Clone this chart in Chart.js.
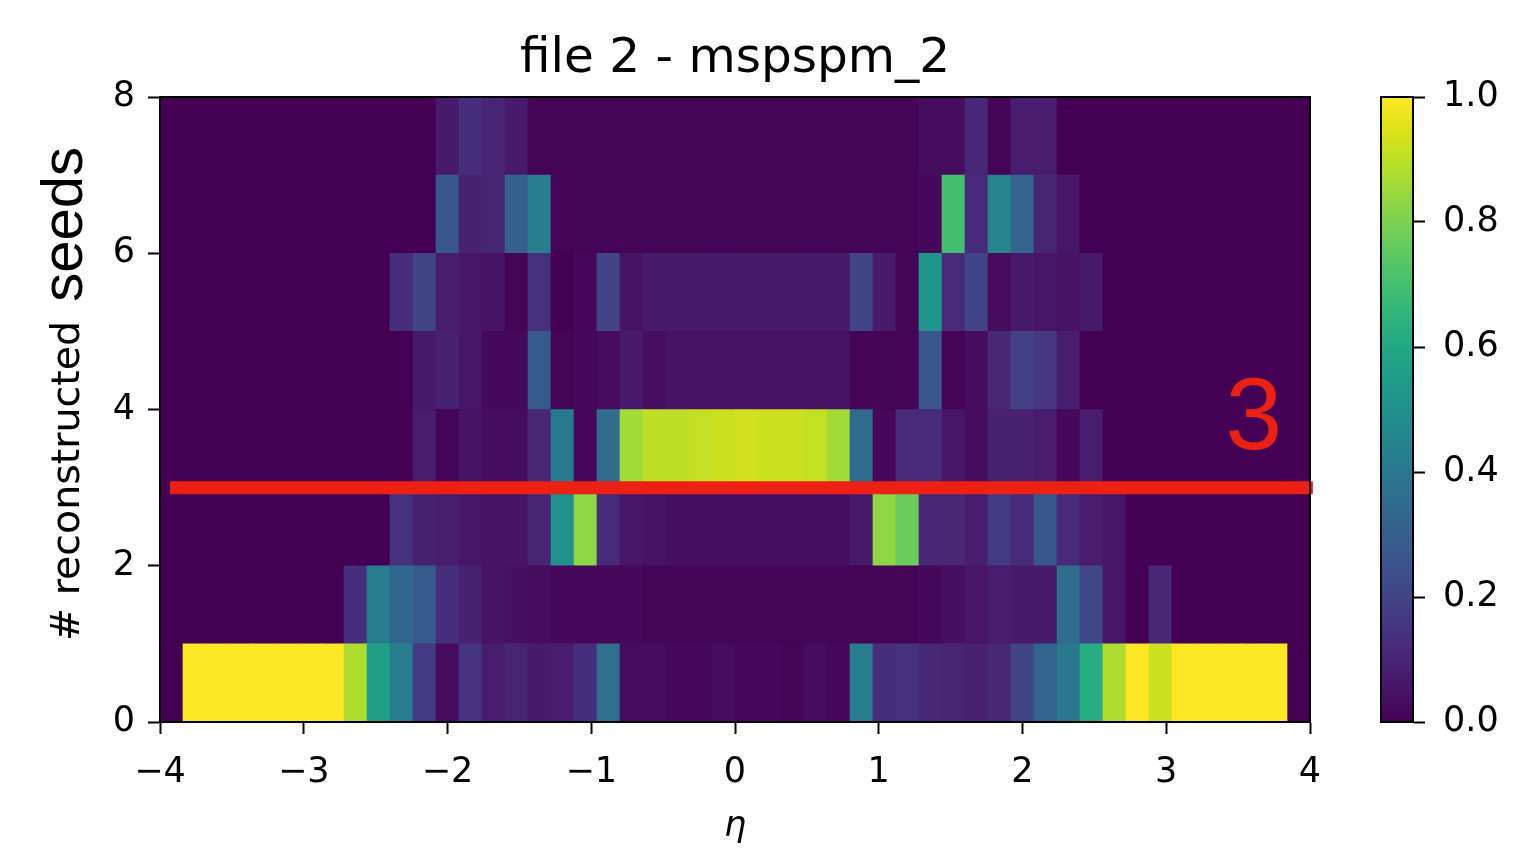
<!DOCTYPE html>
<html>
<head>
<meta charset="utf-8">
<title>file 2 - mspspm_2</title>
<script src="https://cdn.jsdelivr.net/npm/chart.js@4.4.1/dist/chart.umd.min.js"></script>
<style>
  body { margin: 0; background: #fff; }
  #wrap { position: relative; width: 1538px; height: 851px; }
  #heatmap { position: absolute; left: 0; top: 0; }
  #colorbar { position: absolute; left: 1340px; top: 0; }
</style>
</head>
<body>
<div id="wrap">
  <canvas id="heatmap" width="1340" height="851"></canvas>
  <canvas id="colorbar" width="198" height="851"></canvas>
</div>
<script>
// eta binning: 48 bins of 0.16 between -3.84 and 3.84
const etaLow = -3.84
const etaBinWidth = 0.16

// fraction of events per eta bin, one array per number of reconstructed seeds
const seeds0 = [1, 1, 1, 1, 1, 1, 1, 0.88, 0.57, 0.42, 0.17, 0.03, 0.15, 0.08, 0.10, 0.07, 0.08, 0.13, 0.36, 0.03, 0.03, 0.02, 0.02, 0.03,
                0.02, 0.02, 0.01, 0.03, 0.02, 0.42, 0.13, 0.14, 0.11, 0.10, 0.09, 0.11, 0.20, 0.32, 0.40, 0.62, 0.88, 1, 0.92, 1, 1, 1, 1, 1]
const seeds1 = [0, 0, 0, 0, 0, 0, 0, 0.13, 0.42, 0.33, 0.28, 0.13, 0.09, 0.05, 0.04, 0.03, 0.02, 0.02, 0.02, 0.02, 0.01, 0.01, 0.01, 0.01,
                0.01, 0.01, 0.01, 0.01, 0.01, 0.01, 0.01, 0.01, 0.02, 0.04, 0.06, 0.08, 0.07, 0.07, 0.35, 0.21, 0.06, 0, 0.11, 0, 0, 0, 0, 0]
const seeds2 = [0, 0, 0, 0, 0, 0, 0, 0, 0, 0.14, 0.09, 0.08, 0.06, 0.05, 0.05, 0.10, 0.50, 0.83, 0.12, 0.06, 0.05, 0.04, 0.04, 0.04,
                0.04, 0.04, 0.04, 0.04, 0.04, 0.07, 0.83, 0.77, 0.11, 0.11, 0.08, 0.17, 0.12, 0.27, 0.12, 0.08, 0.06, 0, 0, 0, 0, 0, 0, 0]
const seeds3 = [0, 0, 0, 0, 0, 0, 0, 0, 0, 0, 0.08, 0.01, 0.05, 0.03, 0.03, 0.11, 0.41, 0.02, 0.35, 0.86, 0.90, 0.90, 0.91, 0.92,
                0.93, 0.92, 0.92, 0.91, 0.86, 0.35, 0.02, 0.12, 0.12, 0.06, 0.03, 0.09, 0.09, 0.08, 0.02, 0.08, 0, 0, 0, 0, 0, 0, 0, 0]
const seeds4 = [0, 0, 0, 0, 0, 0, 0, 0, 0, 0, 0.07, 0.09, 0.06, 0.02, 0.02, 0.28, 0.01, 0.02, 0.03, 0.07, 0.04, 0.05, 0.05, 0.05,
                0.05, 0.05, 0.05, 0.05, 0.05, 0.01, 0.01, 0.01, 0.27, 0.01, 0.03, 0.11, 0.19, 0.16, 0.08, 0, 0, 0, 0, 0, 0, 0, 0, 0]
const seeds5 = [0, 0, 0, 0, 0, 0, 0, 0, 0, 0.13, 0.20, 0.08, 0.06, 0.05, 0.01, 0.14, 0, 0.02, 0.20, 0.05, 0.07, 0.07, 0.07, 0.07,
                0.07, 0.07, 0.07, 0.07, 0.07, 0.20, 0.07, 0.01, 0.52, 0.12, 0.20, 0.03, 0.07, 0.06, 0.05, 0.07, 0, 0, 0, 0, 0, 0, 0, 0]
const seeds6 = [0, 0, 0, 0, 0, 0, 0, 0, 0, 0, 0, 0.27, 0.09, 0.10, 0.30, 0.42, 0.01, 0.01, 0.01, 0.01, 0.01, 0.01, 0.01, 0.01,
                0.01, 0.01, 0.01, 0.01, 0.01, 0.01, 0.01, 0.01, 0.02, 0.70, 0.12, 0.45, 0.32, 0.10, 0.06, 0, 0, 0, 0, 0, 0, 0, 0, 0]
const seeds7 = [0, 0, 0, 0, 0, 0, 0, 0, 0, 0, 0, 0.07, 0.13, 0.10, 0.07, 0.01, 0.01, 0.01, 0.01, 0.01, 0.01, 0.01, 0.01, 0.01,
                0.01, 0.01, 0.01, 0.01, 0.01, 0.01, 0.01, 0.01, 0.03, 0.03, 0.11, 0.01, 0.08, 0.08, 0, 0, 0, 0, 0, 0, 0, 0, 0, 0]
const seedRows = [seeds0, seeds1, seeds2, seeds3, seeds4, seeds5, seeds6, seeds7]

const xTicks = [-4, -3, -2, -1, 0, 1, 2, 3, 4]
const yTicks = [0, 2, 4, 6, 8]
const cbTicks = [0, 0.2, 0.4, 0.6, 0.8, 1.0]

// horizontal cut
const cutLevel = 3
const cutFrom = -3.93
const cutTo = 4.02

const viridisStops = ["#440154", "#471365", "#482475", "#463480", "#414487", "#3b528b", "#355f8d", "#2f6c8e", "#2a788e", "#25848e", "#21918c",
                      "#1e9c89", "#22a884", "#2fb47c", "#44bf70", "#5ec962", "#7ad151", "#9bd93c", "#bddf26", "#dfe318", "#fde725"]

const hexRgb = (h) => [parseInt(h.slice(1, 3), 16), parseInt(h.slice(3, 5), 16), parseInt(h.slice(5, 7), 16)]

const viridis = (v) => {
  v = Math.min(1, Math.max(0, v))
  var pos = v * (viridisStops.length - 1)
  var i = Math.min(Math.floor(pos), viridisStops.length - 2)
  var f = pos - i
  var a = hexRgb(viridisStops[i])
  var b = hexRgb(viridisStops[i + 1])
  var c = a.map((x, k) => Math.round(x + (b[k] - x) * f))
  return `rgb(${c[0]},${c[1]},${c[2]})`
}

const tickFont = { family: "DejaVu Sans", size: 35 }
const minusFmt = (v) => v < 0 ? "\u2212" + Math.abs(v) : String(v)

var rowDatasets = seedRows.map((row, r) => ({
  type: "bar",
  order: 1,
  data: row.map((v, i) => ({ x: etaLow + etaBinWidth * (i + 0.5), y: [r, r + 1] })),
  backgroundColor: row.map(v => viridis(v)),
  borderWidth: 0,
  barPercentage: 1,
  categoryPercentage: 1,
  grouped: false
}))

var cutDataset = {
  type: "line",
  order: 0,
  data: [{ x: cutFrom, y: cutLevel }, { x: cutTo, y: cutLevel }],
  borderColor: "#ec2113",
  borderWidth: 13,
  borderCapStyle: "butt",
  pointRadius: 0,
  clip: false
}

const framePlugin = {
  id: "frame",
  beforeDatasetsDraw: (chart) => {
    if (chart.canvas.id != "heatmap") return
    const { ctx, chartArea: a } = chart
    ctx.save()
    ctx.fillStyle = viridis(0)
    ctx.fillRect(a.left, a.top, a.right - a.left, a.bottom - a.top)
    ctx.restore()
  },
  afterDatasetsDraw: (chart) => {
    const { ctx, chartArea: a } = chart
    ctx.save()
    if (chart.canvas.id == "heatmap") {
      // label of the cut line
      const xs = chart.scales.x
      const ys = chart.scales.y
      ctx.fillStyle = "#ec2113"
      ctx.font = "102px 'Liberation Sans'"
      ctx.textAlign = "center"
      ctx.textBaseline = "alphabetic"
      ctx.fillText(String(cutLevel), xs.getPixelForValue(3.61), ys.getPixelForValue(3.49))
    }
    ctx.strokeStyle = "#000"
    ctx.lineWidth = 2
    ctx.strokeRect(a.left, a.top, a.right - a.left, a.bottom - a.top)
    ctx.restore()
  },
  afterDraw: (chart) => {
    if (chart.canvas.id != "heatmap") return
    const { ctx, chartArea: a } = chart
    ctx.save()
    ctx.fillStyle = "#000"
    // eta label
    ctx.font = "italic 35px 'DejaVu Sans'"
    ctx.textAlign = "center"
    ctx.textBaseline = "alphabetic"
    ctx.fillText("\u03b7", (a.left + a.right) / 2, 836)
    // y label, drawn upward
    ctx.translate(79, 641)
    ctx.rotate(-Math.PI / 2)
    ctx.textAlign = "left"
    ctx.font = "39.5px 'DejaVu Sans'"
    var first = "# reconstructed"
    ctx.fillText(first, 0, 0)
    var w = ctx.measureText(first).width
    ctx.font = "58px 'Liberation Sans'"
    ctx.fillText("seeds", w + 19, 3)
    ctx.restore()
  }
}

new Chart(document.getElementById("heatmap"), {
  type: "bar",
  data: { datasets: [...rowDatasets, cutDataset] },
  plugins: [framePlugin],
  options: {
    responsive: false,
    animation: false,
    layout: { padding: { left: 0, right: 30, top: 0, bottom: 0 } },
    plugins: {
      legend: { display: false },
      tooltip: { enabled: false },
      title: {
        display: true,
        fullSize: false,
        text: "file 2 - mspspm_2",
        color: "#000",
        font: { family: "DejaVu Sans", size: 48.5, weight: "normal" },
        padding: { top: 30, bottom: 8.8 }
      }
    },
    scales: {
      x: {
        type: "linear",
        min: xTicks[0],
        max: xTicks[xTicks.length - 1],
        offset: false,
        afterBuildTicks: (s) => { s.ticks = xTicks.map(v => ({ value: v })) },
        afterFit: (s) => { s.height = 129 },
        ticks: { font: tickFont, color: "#000", padding: 18, maxRotation: 0, autoSkip: false, callback: minusFmt },
        grid: { offset: false, drawOnChartArea: false, tickLength: 12, tickWidth: 2, tickColor: "#000" },
        border: { display: true, color: "#000", width: 2 }
      },
      y: {
        type: "linear",
        min: yTicks[0],
        max: yTicks[yTicks.length - 1],
        afterBuildTicks: (s) => { s.ticks = yTicks.map(v => ({ value: v })) },
        afterFit: (s) => { s.width = 160 },
        ticks: { font: tickFont, color: "#000", padding: 13 },
        grid: { drawOnChartArea: false, tickLength: 12, tickWidth: 2, tickColor: "#000" },
        border: { display: true, color: "#000", width: 2 }
      }
    }
  }
})

// colour bar
new Chart(document.getElementById("colorbar"), {
  type: "bar",
  data: {
    labels: [""],
    datasets: [{
      data: [[cbTicks[0], cbTicks[cbTicks.length - 1]]],
      backgroundColor: (c) => {
        const a = c.chart.chartArea
        if (!a) return viridis(0)
        const g = c.chart.ctx.createLinearGradient(0, a.bottom, 0, a.top)
        viridisStops.forEach((col, i) => g.addColorStop(i / (viridisStops.length - 1), col))
        return g
      },
      borderWidth: 0,
      barPercentage: 1,
      categoryPercentage: 1
    }]
  },
  plugins: [framePlugin],
  options: {
    responsive: false,
    animation: false,
    layout: { padding: { left: 41, right: 0, top: 97, bottom: 129 } },
    plugins: { legend: { display: false }, tooltip: { enabled: false } },
    scales: {
      x: { display: false },
      y: {
        position: "right",
        min: 0,
        max: 1,
        afterBuildTicks: (s) => { s.ticks = cbTicks.map(v => ({ value: v })) },
        afterFit: (s) => { s.width = 125 },
        ticks: { font: tickFont, color: "#000", padding: 18, callback: (v) => v.toFixed(1) },
        grid: { drawOnChartArea: false, tickLength: 12, tickWidth: 2, tickColor: "#000" },
        border: { display: true, color: "#000", width: 2 }
      }
    }
  }
})
</script>
</body>
</html>
